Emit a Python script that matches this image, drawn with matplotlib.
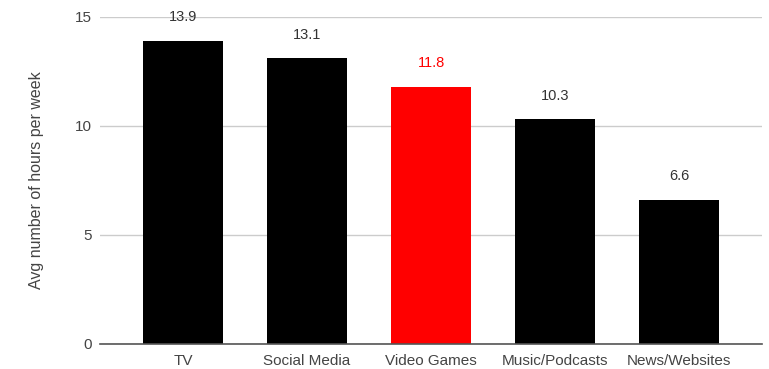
import matplotlib.pyplot as plt

# Données
categories = ["TV", "Social Media", "Video Games", "Music/Podcasts", "News/Websites"]
heures = [13.9, 13.1, 11.8, 10.3, 6.6]
couleurs = ["#000000", "#000000", "#ff0000", "#000000", "#000000"]
couleurs_texte = ["#333333", "#333333", "#ff0000", "#333333", "#333333"]

plt.rcParams['font.family'] = ['Liberation Sans', 'DejaVu Sans']

fig = plt.figure(figsize=(7.69, 3.69), dpi=100)
ax = fig.add_axes([0.130, 0.068, 0.861, 0.886])

x = range(len(categories))
ax.bar(x, heures, width=0.64, color=couleurs, zorder=3)

# Valeurs au-dessus des barres
for i, v in enumerate(heures):
    ax.annotate(f"{v}", (i, v), xytext=(0, 17), textcoords='offset points',
                ha='center', va='center', fontsize=10.5, color=couleurs_texte[i])

ax.set_xlim(-0.67, 4.67)
ax.set_ylim(0, 15)
ax.set_yticks([0, 5, 10, 15])
ax.set_xticks(list(x))
ax.set_xticklabels(categories)
ax.tick_params(axis='both', length=0, labelsize=11, labelcolor='#444444')
ax.tick_params(axis='x', pad=7)
ax.tick_params(axis='y', pad=6)
ax.grid(axis='y', color='#cccccc', linewidth=1, zorder=0)

for s in ['top', 'right', 'left']:
    ax.spines[s].set_visible(False)
ax.spines['bottom'].set_color('#555555')
ax.spines['bottom'].set_linewidth(1.2)
ax.spines['bottom'].set_zorder(4)

ax.set_ylabel("Avg number of hours per week", fontsize=11.5, color='#444444', labelpad=22)

fig.savefig("out.png", dpi=100)
